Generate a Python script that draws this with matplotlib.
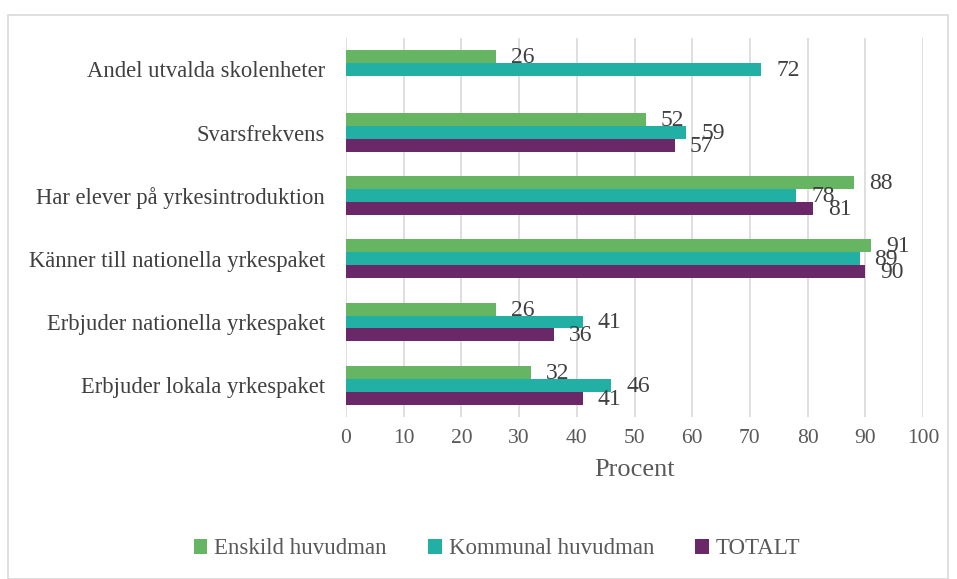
import matplotlib
matplotlib.use("Agg")
import matplotlib.pyplot as plt
import numpy as np
from matplotlib.patches import Rectangle

categories = ["Andel utvalda skolenheter", "Svarsfrekvens", "Har elever på yrkesintroduktion",
              "Känner till nationella yrkespaket", "Erbjuder nationella yrkespaket", "Erbjuder lokala yrkespaket"]
series_names = ["Enskild huvudman", "Kommunal huvudman", "TOTALT"]
enskild = [26, 52, 88, 91, 26, 32]
kommunal = [72, 59, 78, 89, 41, 46]
totalt = [np.nan, 57, 81, 90, 36, 41]
colors = ["#66b562", "#22b0a5", "#6a2868"]
xticks = [0, 10, 20, 30, 40, 50, 60, 70, 80, 90, 100]

plt.rcParams['font.family'] = ['Liberation Serif', 'DejaVu Serif']

fig = plt.figure(figsize=(9.57, 5.79), dpi=100)
fig.patches.append(Rectangle((8/957, 0), 940/957, 1 - 15/579, transform=fig.transFigure,
                             fill=False, edgecolor="#d9d9d9", linewidth=1.2))
ax = fig.add_axes([346/957, 1 - 416.7/579, 577/957, (416.7 - 37.8)/579])

y = np.arange(len(categories))
h = 0.205
for i, (vals, c, name) in enumerate(zip([enskild, kommunal, totalt], colors, series_names)):
    pos = y + (i - 1) * h
    ax.barh(pos, vals, height=h, color=c, label=name, zorder=3)
    for p, v in zip(pos, vals):
        if not np.isnan(v):
            ax.annotate(f"{v:.0f}", (v, p), xytext=(15, -1), textcoords="offset pixels",
                        va="center", ha="left", fontsize=17, color="#404040", zorder=4)

ax.set_ylim(len(categories) - 0.5, -0.5)
ax.set_xlim(0, 100)
ax.set_xticks(xticks)
ax.set_yticks(y)
ax.set_yticklabels(categories, fontsize=16.3, color="#404040")
ax.tick_params(axis="x", labelsize=15.5, colors="#595959", length=0, pad=9)
ax.tick_params(axis="y", length=0, pad=15)
ax.grid(axis="x", color="#d9d9d9", linewidth=1.2, zorder=0)
for s in ax.spines.values():
    s.set_visible(False)
ax.set_xlabel("Procent", fontsize=19, color="#595959", labelpad=8)

handles, labels = ax.get_legend_handles_labels()
fig.legend(handles, labels, loc="center", bbox_to_anchor=(497/957, 1 - 549/579), ncol=3,
           frameon=False, fontsize=16.5, labelcolor="#595959", handlelength=0.6, handleheight=0.6,
           handletextpad=0.3, columnspacing=1.8)

fig.savefig("out.png", dpi=100)
